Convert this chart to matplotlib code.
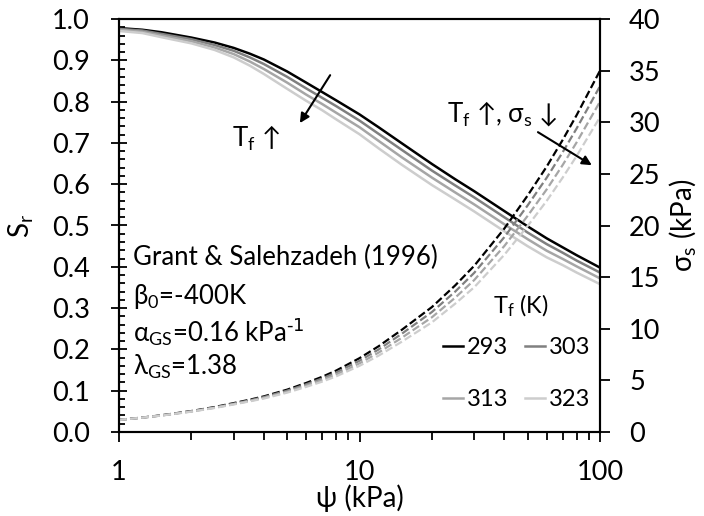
"""Grant & Salehzadeh (1996) モデルによる保水曲線と吸引応力の温度依存性グラフ"""

import matplotlib
matplotlib.use("Agg")
import matplotlib.pyplot as plt
from matplotlib.lines import Line2D
from matplotlib.ticker import FixedLocator, LogLocator, MultipleLocator, NullFormatter, FuncFormatter

plt.rcParams["font.family"] = ["Lato", "DejaVu Sans"]
plt.rcParams["mathtext.default"] = "regular"

# サクション ψ (kPa)
psi = [1, 1.25, 1.5, 2, 2.5, 3, 3.5, 4, 5, 6, 7, 8, 10, 12, 15, 20, 25, 30, 40, 50, 60, 70, 80, 100]
temps = [293, 303, 313, 323]

# 飽和度 Sr
sr_293 = [0.978, 0.974, 0.968, 0.955, 0.943, 0.930, 0.916, 0.902, 0.873, 0.846, 0.823, 0.803,
          0.769, 0.738, 0.699, 0.649, 0.612, 0.583, 0.535, 0.498, 0.469, 0.447, 0.428, 0.398]
sr_303 = [0.976, 0.972, 0.964, 0.951, 0.937, 0.923, 0.907, 0.891, 0.860, 0.832, 0.809, 0.789,
          0.754, 0.722, 0.683, 0.633, 0.597, 0.568, 0.520, 0.483, 0.455, 0.434, 0.415, 0.386]
sr_313 = [0.974, 0.969, 0.960, 0.946, 0.931, 0.915, 0.897, 0.879, 0.846, 0.817, 0.794, 0.773,
          0.738, 0.705, 0.665, 0.616, 0.580, 0.551, 0.503, 0.467, 0.439, 0.419, 0.401, 0.372]
sr_323 = [0.971, 0.966, 0.956, 0.941, 0.925, 0.907, 0.887, 0.867, 0.831, 0.802, 0.779, 0.757,
          0.721, 0.687, 0.647, 0.598, 0.563, 0.534, 0.486, 0.450, 0.423, 0.404, 0.386, 0.358]

# 吸引応力 σs (kPa)
sig_293 = [1.18, 1.40, 1.62, 2.03, 2.42, 2.80, 3.13, 3.45, 4.10, 4.75, 5.35, 5.95,
           7.15, 8.30, 9.90, 12.1, 14.2, 16.1, 19.7, 22.9, 25.7, 28.3, 30.7, 35.0]
sig_303 = [1.18, 1.39, 1.60, 2.01, 2.38, 2.75, 3.07, 3.38, 4.00, 4.62, 5.19, 5.76,
           6.90, 7.99, 9.52, 11.62, 13.60, 15.42, 18.87, 21.94, 24.62, 27.11, 29.41, 33.5]
sig_313 = [1.18, 1.39, 1.60, 1.99, 2.35, 2.70, 3.01, 3.30, 3.90, 4.49, 5.03, 5.57,
           6.65, 7.69, 9.13, 11.11, 13.01, 14.72, 18.01, 20.93, 23.49, 25.87, 28.06, 32.0]
sig_323 = [1.17, 1.39, 1.59, 1.97, 2.33, 2.67, 2.97, 3.24, 3.81, 4.37, 4.88, 5.39,
           6.41, 7.39, 8.75, 10.62, 12.43, 14.02, 17.16, 19.95, 22.38, 24.65, 26.74, 30.5]

sr_all = [sr_293, sr_303, sr_313, sr_323]
sig_all = [sig_293, sig_303, sig_313, sig_323]
colors = ["#000000", "#808080", "#a6a6a6", "#cdcdcd"]

FS = 18.5    # 注記
FS_LEG = 17
FS_TICK = 19.5
FS_LABEL = 20

fig = plt.figure(figsize=(7.04, 5.16), dpi=100)
ax = fig.add_axes([119 / 704, 84 / 516, 481 / 704, 413 / 516])
ax2 = ax.twinx()

for sr, c in zip(sr_all, colors):
    ax.plot(psi, sr, color=c, lw=1.8, solid_capstyle="butt")
for sig, c in zip(sig_all, colors):
    ax2.plot(psi, sig, color=c, lw=1.6, linestyle=(0, (3.5, 1.5)))

ax.set_xscale("log")
ax.set_xlim(1, 100)
ax.set_ylim(0, 1)
ax2.set_ylim(0, 40)

# 軸・目盛り
for a in (ax, ax2):
    for s in a.spines.values():
        s.set_linewidth(1.5)
ax.xaxis.set_major_locator(FixedLocator([1, 10, 100]))
ax.xaxis.set_major_formatter(FuncFormatter(lambda v, p: f"{v:g}"))
ax.xaxis.set_minor_locator(LogLocator(base=10, subs=range(2, 10)))
ax.xaxis.set_minor_formatter(NullFormatter())
ax.tick_params(axis="x", which="major", direction="out", length=7, width=1.3,
               labelsize=FS_TICK, pad=13)
ax.tick_params(axis="x", which="minor", direction="out", length=5.5, width=1.3)

ax.yaxis.set_major_locator(MultipleLocator(0.1))
ax.yaxis.set_minor_locator(MultipleLocator(0.02))
ax.yaxis.set_major_formatter(FuncFormatter(lambda v, p: f"{v:.1f}"))
ax.tick_params(axis="y", which="major", direction="inout", length=12, width=1.3,
               labelsize=FS_TICK, pad=15)
ax.tick_params(axis="y", which="minor", direction="in", length=4.5, width=1.3)

ax2.yaxis.set_major_locator(MultipleLocator(5))
ax2.tick_params(axis="y", which="major", direction="out", length=7, width=1.3,
                labelsize=FS_TICK, pad=14)

ax.set_xlabel("ψ (kPa)", fontsize=FS_LABEL)
ax.xaxis.set_label_coords(0.5, -0.126)
ax.set_ylabel("S$_r$", fontsize=FS_LABEL)
ax.yaxis.set_label_coords(-0.172, 0.5)
ax2.set_ylabel("σ$_s$ (kPa)", fontsize=FS_LABEL)
ax2.yaxis.set_label_coords(1.14, 0.5)

# モデルパラメータ
params = [
    ("Grant & Salehzadeh (1996)", 0.404),
    ("β$_0$=-400K", 0.310),
    (r"α$_{GS}$=0.16 kPa$^{\text{-1}}$", 0.218),
    ("λ$_{GS}$=1.38", 0.138),
]
for txt, yb in params:
    ax2.text(0.029, yb, txt, transform=ax.transAxes, fontsize=FS, va="baseline", ha="left")

# 温度上昇の方向を示す矢印
arrow_kw = dict(arrowstyle="-|>", color="black", lw=1.5, mutation_scale=14,
                shrinkA=0, shrinkB=0)
ax2.text(0.235, 0.69, "T$_f$ ↑", transform=ax.transAxes, fontsize=FS, va="baseline")
ax2.annotate("", xy=(0.376, 0.748), xytext=(0.439, 0.864),
             xycoords="axes fraction", textcoords="axes fraction", arrowprops=arrow_kw)
ax2.text(0.682, 0.751, "T$_f$ ↑, σ$_s$ ↓", transform=ax.transAxes, fontsize=FS,
         va="baseline")
ax2.annotate("", xy=(0.983, 0.646), xytext=(0.871, 0.726),
             xycoords="axes fraction", textcoords="axes fraction", arrowprops=arrow_kw)

# 凡例（2列: 293/313, 303/323）
handles = [Line2D([], [], color=c, lw=1.8) for c in colors]
labels = [str(t) for t in temps]
order = [0, 2, 1, 3]
ax2.text(0.836, 0.288, "T$_f$ (K)", transform=ax.transAxes, fontsize=FS_LEG,
         ha="center", va="baseline")
ax2.legend([handles[i] for i in order], [labels[i] for i in order], ncol=2,
           loc="upper left", bbox_to_anchor=(0.674, 0.230), frameon=False,
           fontsize=FS_LEG, handlelength=0.85, handletextpad=0.17, columnspacing=0.68,
           labelspacing=1.32, borderpad=0, borderaxespad=0)

fig.savefig("out.png", dpi=100)
